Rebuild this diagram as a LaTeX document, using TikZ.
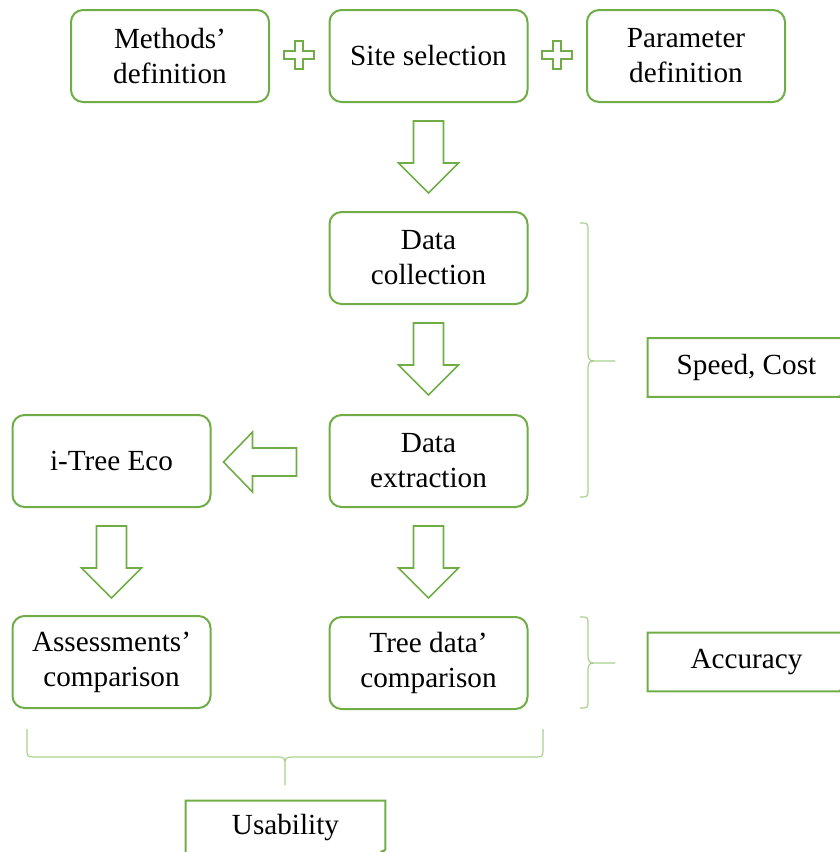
\documentclass[tikz,border=0pt]{standalone}
\usepackage{fontspec}
\setmainfont{Liberation Serif}
\usetikzlibrary{calc}
\definecolor{boxgreen}{RGB}{112,173,71}
\definecolor{bracegreen}{RGB}{169,209,142}
\tikzset{
    stage/.style={draw=boxgreen, line width=1pt, rounded corners=6pt,
        minimum width=99pt, minimum height=46pt, inner sep=2pt, align=center,
        font=\fontsize{14.6}{17.5}\selectfont},
    note/.style={minimum width=98.5pt, minimum height=29pt, inner sep=0pt,
        font=\fontsize{14.6}{17.5}\selectfont},
    noteline/.style={draw=boxgreen, line width=1pt},
    blockarrow/.style={draw=boxgreen, line width=0.8pt, fill=white},
    brace/.style={draw=bracegreen, line width=0.6pt},
}
% block arrows and plus, drawn from a start point
\newcommand{\downblock}[1]{\draw[blockarrow] #1 ++(-15,0) -- ++(30,0) -- ++(0,42)
    -- ++(15,0) -- ++(-30,30) -- ++(-30,-30) -- ++(15,0) -- cycle;}
\newcommand{\leftblock}[1]{\draw[blockarrow] #1 ++(0,-14) -- ++(-44,0) -- ++(0,-16)
    -- ++(-29,30) -- ++(29,30) -- ++(0,-16) -- ++(44,0) -- cycle;}
\newcommand{\plussign}[1]{\draw[blockarrow] #1 ++(-4,-14) -- ++(8,0) -- ++(0,10)
    -- ++(11,0) -- ++(0,8) -- ++(-11,0) -- ++(0,10) -- ++(-8,0) -- ++(0,-10)
    -- ++(-11,0) -- ++(0,-8) -- ++(11,0) -- cycle;}
\newcommand{\notebox}[1]{\draw[noteline] (#1.north west) -- (#1.north east)
    -- ([yshift=3pt]#1.south east) -- ([xshift=-3pt]#1.south east) -- (#1.south west) -- cycle;
    \fill[boxgreen] ([yshift=3pt]#1.south east) -- ([xshift=-3pt]#1.south east)
    -- ([xshift=-2.4pt,yshift=2.4pt]#1.south east) -- cycle;}
\begin{document}
\begin{tikzpicture}[x=0.5pt, y=-0.5pt]
    \useasboundingbox (0,0) rectangle (840,852);
    % top row
    \node[stage] (methods) at (170,56) {Methods’\\definition};
    \node[stage] (site) at (428.5,56) {Site selection};
    \node[stage] (param) at (686,56) {Parameter\\definition};
    \plussign{($(methods.east)!0.5!(site.west)+(0,-1)$)}
    \plussign{($(site.east)!0.5!(param.west)+(0,-1)$)}
    % main column
    \node[stage] (collect) at (428.5,258) {Data\\collection};
    \node[stage] (extract) at (428.5,461) {Data\\extraction};
    \node[stage] (treedata) at (428.5,663) {Tree data’\\comparison};
    \node[stage] (itree) at (111.5,461) {i-Tree Eco};
    \node[stage] (assess) at (111.5,662) {Assessments’\\comparison};
    \downblock{($(site.south)+(0,18)$)}
    \downblock{($(collect.south)+(0,18)$)}
    \downblock{($(extract.south)+(0,18)$)}
    \downblock{($(itree.south)+(0,18)$)}
    \leftblock{($(extract.west)+(-32,1)$)}
    % braces
    \draw[brace] (580,223) .. controls (588,223) .. (588,232) -- (588,350)
        .. controls (588,361) .. (600,361) -- (615,361)
        (600,361) .. controls (588,361) .. (588,372) -- (588,488)
        .. controls (588,497) .. (580,497);
    \draw[brace] (580,617) .. controls (588,617) .. (588,625) -- (588,653)
        .. controls (588,663) .. (600,663) -- (615,663)
        (600,663) .. controls (588,663) .. (588,673) -- (588,700)
        .. controls (588,708) .. (580,708);
    \draw[brace] (27,729) -- (27,748) .. controls (27,757) .. (37,757) -- (276,757)
        .. controls (285,757) .. (285,767) -- (285,785)
        (285,767) .. controls (285,757) .. (295,757) -- (533,757)
        .. controls (543,757) .. (543,748) -- (543,729);
    % notes
    \node[note] (speed) at (746.5,367.5) {Speed, Cost};
    \node[note] (accuracy) at (746.5,662) {Accuracy};
    \node[note, minimum width=99.5pt, minimum height=27pt] (usability) at (285.5,828) {Usability};
    \notebox{speed}
    \notebox{accuracy}
    \notebox{usability}
\end{tikzpicture}
\end{document}
